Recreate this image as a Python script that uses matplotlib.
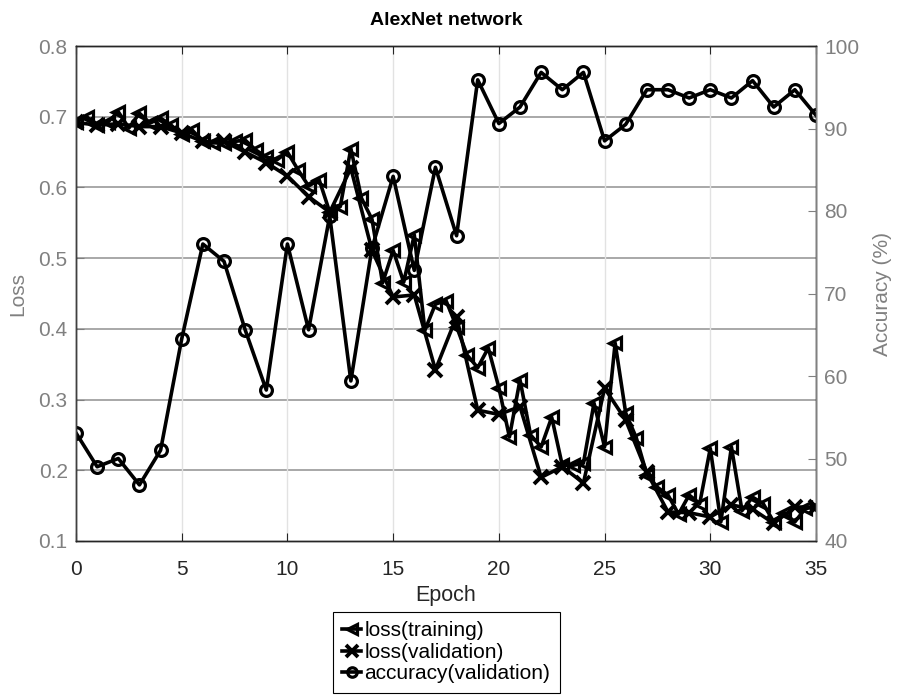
import numpy as np
import matplotlib
matplotlib.use("Agg")
import matplotlib.pyplot as plt

plt.rcParams['font.family'] = ['Liberation Sans', 'DejaVu Sans']

# ---- data ----
epoch_train = np.arange(0, 35.01, 0.5)
loss_train = [0.693, 0.700, 0.688, 0.692, 0.707, 0.684, 0.705, 0.691, 0.698, 0.688,
              0.675, 0.681, 0.665, 0.663, 0.663, 0.665, 0.667, 0.653, 0.643, 0.639,
              0.650, 0.625, 0.602, 0.611, 0.565, 0.573, 0.655, 0.585, 0.555, 0.465,
              0.511, 0.466, 0.533, 0.398, 0.435, 0.440, 0.403, 0.363, 0.345, 0.373,
              0.317, 0.247, 0.328, 0.250, 0.233, 0.275, 0.207, 0.207, 0.210, 0.295,
              0.233, 0.380, 0.281, 0.246, 0.194, 0.176, 0.165, 0.138, 0.165, 0.153,
              0.231, 0.127, 0.233, 0.143, 0.162, 0.153, 0.127, 0.140, 0.127, 0.146,
              0.148]

epoch_val = np.arange(0, 36)
loss_val = [0.692, 0.688, 0.690, 0.686, 0.686, 0.677, 0.665, 0.665, 0.650, 0.635,
            0.616, 0.587, 0.565, 0.627, 0.511, 0.445, 0.448, 0.342, 0.417, 0.285,
            0.279, 0.290, 0.190, 0.205, 0.182, 0.316, 0.271, 0.197, 0.141, 0.140,
            0.134, 0.151, 0.145, 0.125, 0.148, 0.148]
acc_val = [53.1, 49.0, 50.0, 46.8, 51.0, 64.5, 76.0, 73.9, 65.6, 58.3,
           76.0, 65.6, 79.4, 59.4, 75.5, 84.2, 72.8, 85.3, 77.0, 95.9,
           90.6, 92.6, 96.8, 94.7, 96.8, 88.5, 90.5, 94.7, 94.7, 93.7,
           94.7, 93.7, 95.8, 92.6, 94.7, 91.6]

loss_ticks = [0.1, 0.2, 0.3, 0.4, 0.5, 0.6, 0.7, 0.8]
acc_ticks = [40, 50, 60, 70, 80, 90, 100]
epoch_ticks = [0, 5, 10, 15, 20, 25, 30, 35]

gray = '#808080'
dark = '#262626'

fig = plt.figure(figsize=(9, 6.98), dpi=100)
ax = fig.add_axes([76/900, 1-541/698, 740/900, 495/698])
ax2 = ax.twinx()

lw = 2.6
l1, = ax.plot(epoch_train, loss_train, color='black', lw=lw, marker='<',
              ms=8.5, mfc='none', mec='black', mew=2.3, label='loss(training)')
l2, = ax.plot(epoch_val, loss_val, color='black', lw=lw, marker='x',
              ms=10, mew=2.8, label='loss(validation)')
l3, = ax2.plot(epoch_val, acc_val, color='black', lw=lw, marker='o',
               ms=8.5, mfc='none', mec='black', mew=2.3, label='accuracy(validation)')

ax.set_xlim(0, 35)
ax.set_ylim(0.1, 0.8)
ax2.set_ylim(40, 100)
ax.set_xticks(epoch_ticks)
ax.set_yticks(loss_ticks)
ax.set_yticklabels([f'{t:.1f}' for t in loss_ticks])
ax2.set_yticks(acc_ticks)

# grid
for t in loss_ticks[1:-1]:
    ax.axhline(t, color='#9a9a9a', lw=1.2, zorder=0)
for t in epoch_ticks[1:-1]:
    ax.axvline(t, color='#e2e2e2', lw=1.0, zorder=0)

ax.tick_params(axis='x', direction='in', length=6, labelsize=15, colors=dark,
               top=True, pad=14)
ax.tick_params(axis='y', direction='in', length=6, labelsize=15, colors=gray, pad=6)
ax2.tick_params(axis='y', direction='in', length=6, labelsize=15, colors=gray, pad=6)
for a in (ax, ax2):
    for s in a.spines.values():
        s.set_linewidth(1.0)
ax2.spines['bottom'].set_color(dark)
ax2.spines['top'].set_color(dark)
ax2.spines['left'].set_color('#404040')
ax2.spines['right'].set_color(gray)

ax.set_xlabel('Epoch', fontsize=15.5, color=dark, labelpad=4)
ax.set_ylabel('Loss', fontsize=15, color=gray, labelpad=8)
ax2.set_ylabel('Accuracy (%)', fontsize=15, color=gray, labelpad=10)
ax.set_title('AlexNet network', fontsize=14, fontweight='bold', pad=15)

leg = fig.legend([l1, l2, l3], ['loss(training)', 'loss(validation)', 'accuracy(validation)'],
                 loc='upper left', bbox_to_anchor=(333/900, 1-612/698), frameon=True,
                 fancybox=False, edgecolor='black', framealpha=1, fontsize=15,
                 handlelength=0.9, handletextpad=0.15, borderpad=0.45,
                 labelspacing=0.12, borderaxespad=0, markerscale=0.8)
leg.get_frame().set_linewidth(0.8)

fig.savefig('out.png', dpi=100)
